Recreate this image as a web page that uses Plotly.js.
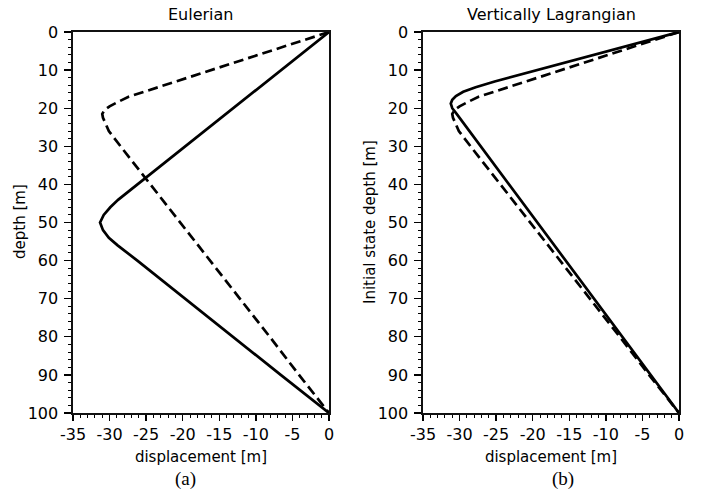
<!DOCTYPE html>
<html>
<head>
<meta charset="utf-8">
<script src="https://cdn.plot.ly/plotly-3.0.1.min.js"></script>
<style>html,body{margin:0;padding:0;background:#fff}#chart{width:706px;height:495px}</style>
</head>
<body>
<div id="chart"></div>
<script>
// Panel (a) Eulerian
const eulerSolidDepth = [0, 10, 20, 30, 40, 44, 46, 48, 50, 52, 54, 56, 60, 70, 80, 90, 100];
const eulerSolidDisp  = [0, -6.56, -13.1, -19.7, -26.2, -28.8, -29.9, -30.8, -31.3, -30.9, -30.1, -28.9, -26.2, -19.7, -13.1, -6.6, 0];
const eulerDashDepth  = [0, 5, 10, 15, 17, 18.5, 19.5, 20.5, 21.5, 22.5, 24, 26, 30, 40, 50, 60, 70, 80, 90, 100];
const eulerDashDisp   = [0, -8.15, -16.3, -24.4, -27.4, -29.0, -30.0, -30.7, -31.0, -30.9, -30.6, -30.1, -28.5, -24.4, -20.3, -16.3, -12.2, -8.1, -4.1, 0];
// Panel (b) Vertically Lagrangian
const lagSolidDepth = [0, 5, 10, 13, 14.5, 15.7, 16.8, 17.8, 18.8, 20, 21.5, 30, 40, 50, 60, 70, 80, 90, 100];
const lagSolidDisp  = [0, -9.75, -19.5, -25.2, -27.8, -29.5, -30.5, -31.0, -31.2, -31.0, -30.4, -27.1, -23.2, -19.35, -15.5, -11.6, -7.7, -3.9, 0];
const lagDashDepth  = [0, 5, 10, 15, 17, 18.5, 19.5, 20.5, 21.5, 22.5, 24, 26, 30, 40, 50, 60, 70, 80, 90, 100];
const lagDashDisp   = [0, -8.15, -16.3, -24.4, -27.4, -29.0, -30.0, -30.7, -31.0, -30.9, -30.6, -30.1, -28.5, -24.4, -20.3, -16.3, -12.2, -8.1, -4.1, 0];

const xTickVals = [-35, -30, -25, -20, -15, -10, -5, 0];
const xTickText = ['-35', '-30', '-25', '-20', '-15', '-10', '-5', '0'];
const yTickVals = [0, 10, 20, 30, 40, 50, 60, 70, 80, 90, 100];
const panelTitles = ['Eulerian', 'Vertically Lagrangian'];
const xTitle = 'displacement [m]';
const yTitles = ['depth [m]', 'Initial state depth [m]'];
const panelLabels = ['(a)', '(b)'];

const FONT = 'DejaVu Sans, sans-serif';
const solid = {color: '#000', width: 2.7};
const dashed = {color: '#000', width: 2.7, dash: '10px,5px'};

const traces = [
  {x: eulerSolidDisp, y: eulerSolidDepth, mode: 'lines', line: solid, xaxis: 'x', yaxis: 'y'},
  {x: eulerDashDisp, y: eulerDashDepth, mode: 'lines', line: dashed, xaxis: 'x', yaxis: 'y'},
  {x: lagSolidDisp, y: lagSolidDepth, mode: 'lines', line: solid, xaxis: 'x2', yaxis: 'y2'},
  {x: lagDashDisp, y: lagDashDepth, mode: 'lines', line: dashed, xaxis: 'x2', yaxis: 'y2'}
];

function xax(domain, anchor) {
  return {
    domain: domain, anchor: anchor, range: [-35, 0], tickvals: xTickVals, ticktext: xTickText,
    ticks: 'outside', ticklen: 6, tickwidth: 1.3, tickcolor: '#000',
    minor: {dtick: 1, ticks: 'outside', ticklen: 3, tickwidth: 1, tickcolor: '#000', showgrid: false},
    showline: true, linecolor: '#111', linewidth: 1.6, mirror: true,
    showgrid: false, zeroline: false,
    tickfont: {family: FONT, size: 16, color: '#000'},
    title: {text: xTitle, font: {family: FONT, size: 15, color: '#000'}, standoff: 9}
  };
}
function yax(domain, anchor) {
  return {
    domain: domain, anchor: anchor, range: [100, 0], tickvals: yTickVals,
    ticks: 'outside', ticklen: 7, tickwidth: 1.3, tickcolor: '#000',
    minor: {dtick: 2, ticks: 'outside', ticklen: 3.5, tickwidth: 1, tickcolor: '#000', showgrid: false},
    showline: true, linecolor: '#111', linewidth: 1.6, mirror: true,
    showgrid: false, zeroline: false, ticklabelstandoff: 3,
    tickfont: {family: FONT, size: 16, color: '#000'}
  };
}

const yDom = [1 - 413 / 495, 1 - 32 / 495];
const ann = (text, x, y, font, angle) => ({
  text: text, xref: 'paper', yref: 'paper', x: x / 706, y: 1 - y / 495, showarrow: false,
  xanchor: 'center', yanchor: 'middle', textangle: angle || 0, font: font
});
const titleFont = {family: FONT, size: 16, color: '#000'};
const axFont = {family: FONT, size: 15, color: '#000'};
const labFont = {family: 'Liberation Serif, Times New Roman, serif', size: 19, color: '#000'};

const layout = {
  width: 706, height: 495,
  margin: {l: 0, r: 0, t: 0, b: 0},
  paper_bgcolor: '#fff', plot_bgcolor: '#fff',
  showlegend: false,
  xaxis: xax([73 / 706, 329 / 706], 'y'),
  yaxis: yax(yDom, 'x'),
  xaxis2: xax([423 / 706, 679 / 706], 'y2'),
  yaxis2: yax(yDom, 'x2'),
  annotations: [
    ann(panelTitles[0], 201, 15, titleFont),
    ann(panelTitles[1], 551, 15, titleFont),
    ann(yTitles[0], 20, 222, axFont, -90),
    ann(yTitles[1], 370, 222, axFont, -90),
    ann(panelLabels[0], 185, 479, labFont),
    ann(panelLabels[1], 563, 479, labFont)
  ]
};

Plotly.newPlot('chart', traces, layout, {displayModeBar: false, staticPlot: true});
</script>
</body>
</html>
